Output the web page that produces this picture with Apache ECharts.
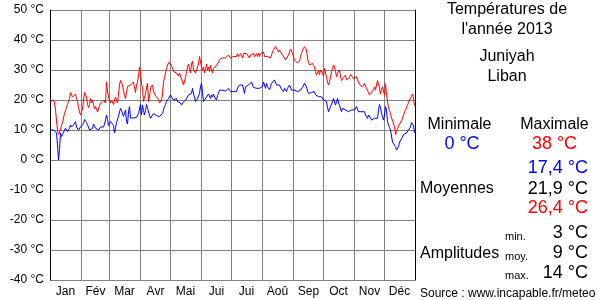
<!DOCTYPE html>
<html><head><meta charset="utf-8">
<script src="https://cdn.jsdelivr.net/npm/echarts@6/dist/echarts.min.js"></script>
<style>html,body{margin:0;padding:0;background:#fff}#c{width:600px;height:300px}</style>
</head><body><div id="c"></div>
<script>
const monthNames = ['Jan','Fév','Mar','Avr','Mai','Jui','Jui','Aoû','Sep','Oct','Nov','Déc'];
const monthDays = [31,28,31,30,31,30,31,31,30,31,30,31];
const yTicks = {min:-40, max:50, step:10};
const tMax = [
19.5,19.5,19,20,19,17,13,10,8.5,8.5,
10,11.5,12.5,14,15.5,16.5,17.5,18.5,19.5,20.5,
22.5,22.5,21,20.5,21,22,20.5,19.5,17.5,16,
15,15.5,17,20,22.5,22,21,18.5,17.5,18.5,
20.5,19,20,18.5,17,17.8,17,16,17,18,
19,19.5,19.5,20,20,19,26,23,21,20,
19,20,20.5,18.5,19.5,21,20,19,22,25,
26.5,26,25,23,21.5,20.5,22.5,24.5,24.5,25,
25,25,25,26,24,22.5,25,26,28,31,
29.5,25.5,24,19.5,21,22,24,25.5,19.5,21,
24,24.5,25,23,22,21.5,21,20.5,20.2,19,
18.5,20,22,26,27.5,29,30.5,31,32.5,33,
32.5,31.5,30.5,29.5,29.5,29.5,29,28.5,28,29,
28.5,27,26,25,25.5,27.5,29.5,31,32,30.5,
29,32,33,30,30,29,29.5,31,32,34.5,
35,31,30,31,29,30,32,30,31,29.5,
31.5,30,29,30.5,31,30.5,31.5,32,32.5,33.5,
34,34,34,34,34,34,34.2,34.5,35,34.5,
34,34.5,34,34.5,35,34.5,34.5,35.5,34.5,35,
35.5,35.5,34,35.5,36,35.5,35.5,36,35,34,
35,35.5,34.5,35.5,34.5,35,35.5,34.5,35.5,34.5,
35.5,35.5,35,36,34.5,35,35,34.5,35,34.5,
34,35,36,36.7,37.2,37.8,37.2,36.7,36,36.7,
36,35.5,35,34.5,34,33.3,34,34.5,35,36,
37,36.5,35.5,35,33.3,33.3,32.8,32.3,32.2,33,
34.5,35.5,36.7,37.2,37.8,38,36.7,34,32.5,31.7,
31.7,31.8,32.2,31.7,31,29.5,28.3,29,30,28.5,
30,30,29,28,30.5,29,27.8,26,25,25.5,
27.5,29.5,30.5,31.7,31,29.5,27.8,29,29,30,
28,26.5,26,27.5,27.8,28.3,26.7,26.2,27,27.5,
28.5,29,28.5,27.2,27.8,27.2,27.8,26.7,26.2,25.2,
25.5,24.8,24.4,24.4,25.5,25,23.9,23.9,22.5,21.7,
22,22.5,23,23.5,24.4,23.3,25,26.5,26.2,24,
22,23.5,24.4,23,21.7,25.5,21.7,19.5,17.5,16.5,
15.5,14,13.3,12,11.2,8.5,9.5,10.5,11,12,
12.5,13,14,15,16,16.7,17.2,18.2,19.2,20,
20.5,21.2,22,20.5,18
];
const tMin = [
10,10.5,10.5,10,10,10,9,5,0,3.5,
9,7.8,8.5,8.5,9,10.6,10,9.5,10,10.5,
11.7,11,11,11.7,12,12.8,11,10.5,10,10.5,
11,10.5,11,12.2,13.5,13.5,12.5,11.7,11,10,
9.4,9.4,10.5,12,11.5,10.6,10.6,10.5,10,10.6,
11,10.6,10.5,11,12,13.3,15,13.5,11.5,11.5,
12.8,12.8,12.8,11.5,9,10.5,12.5,13,14.5,16,
17.2,16.5,16,14.5,15.5,16.7,13,12,16,17.8,
14,14,14,14,14,14,14.2,14.5,15.5,17,
18.5,15,18.3,16.5,15,16.5,18.5,17.5,16,15.5,
13.9,13.3,14.2,15.5,16,15.5,14.8,14.5,15,14.5,
13.9,14.5,15.5,16.7,17.8,18.5,19.5,20,20.5,21,
21.7,21,20.5,20,19.5,20,20.5,19.5,19,20,
19,18.3,19,18.5,19,20,20.5,21,21.7,21.7,
21.1,22.2,23.9,22,21,19.5,20,20.5,20,22.2,
24.4,25.6,22.5,19.5,19,20,21,21.5,22,22.2,
20.5,21.7,21,22,21,20.5,20,21.5,22.2,23.3,
23.9,22.8,23.3,23.6,23.3,23,23.3,23.6,23.9,23.3,
22.8,22.2,23.3,22.8,23.3,23.3,22.8,24,23.5,25,
25.6,24.5,25,25,22.2,24.4,23.9,25,25,24.4,
25.5,26,25,24.2,23.9,23.9,23.9,23.9,23.9,23.9,
23.9,23.9,24.5,26,25,23.9,25.5,24.4,25,23.5,
24.4,25.5,25.6,26.1,26.7,26.1,25,25.5,24.5,25,
24.4,23.6,23.3,22.8,23.9,23.3,22.8,23.9,24.4,25,
24.4,23.3,23.3,23.9,23.3,23.3,22.8,22.8,22.2,22.8,
23.3,23.6,24.2,24.7,25.6,26.1,24.4,23,22.2,22.8,
22.8,22.5,22.2,22.8,22.8,21.7,21.7,21.1,21.1,20.8,
21.1,21.1,20.5,20,20.5,20.5,19.5,17.5,16.1,17,
17.8,18.3,19.4,20.5,20.5,18.3,19.4,20.5,19,18.3,
17,16.1,17.2,17.8,17.2,16.7,16.1,16.7,16.1,16.7,
16.7,16.7,16.7,16.7,16.7,16.7,17.8,17.2,16.1,16.1,
16.7,16.1,15.6,16.1,16.1,15,15.6,13.9,15,15.6,
14,13.3,13.9,13.3,13.9,13.9,14.4,13.9,16.7,18.5,
17.5,15.6,14.4,13.3,15,17.8,16.7,12.8,11.7,10.8,
10,8,6,5.8,6,4.4,3.3,3.3,4.4,6,
6.5,7,7.5,8.5,8,9,9,9.5,10,10.5,
11,12.5,12.8,11.5,9
];
const titleLines = ['Températures de', "l'année 2013", 'Juniyah', 'Liban'];
const extremes = {min:'0 °C', max:'38 °C'};
const means = ['17,4 °C','21,9 °C','26,4 °C'];
const amplitudes = [['min.','3 °C'],['moy.','9 °C'],['max.','14 °C']];
const sourceText = 'Source : www.incapable.fr/meteo';

const days = tMax.map((_, i) => String(i + 1));
const boundaries = new Set();
const mids = {};
let acc = 0;
monthDays.forEach((d, i) => { boundaries.add(acc); mids[acc + Math.floor(d / 2)] = monthNames[i]; acc += d; });

const FONT = '"Liberation Sans", Arial, sans-serif';
const chart = echarts.init(document.getElementById('c'), null, {renderer:'canvas'});
function txt(x, y, s, size, color, align) {
  return {type:'text', x:x, y:y, style:{text:s, fontSize:size, fontFamily:FONT, fill:color||'#000', textAlign:align||'center', textVerticalAlign:'middle'}};
}
const g = [
  txt(507, 10, titleLines[0], 16), txt(507, 30, titleLines[1], 16),
  txt(507, 57, titleLines[2], 16), txt(507, 77, titleLines[3], 16),
  txt(459.5, 125, 'Minimale', 16), txt(554.5, 125, 'Maximale', 16),
  txt(462, 144, extremes.min, 18, '#0000ff'), txt(554.5, 144, extremes.max, 18, '#ff0000'),
  txt(588, 168, means[0], 18, '#0000ff', 'right'),
  txt(588, 189, means[1], 18, '#000', 'right'),
  txt(588, 208, means[2], 18, '#ff0000', 'right'),
  txt(420, 189, 'Moyennes', 16, '#000', 'left'),
  txt(420, 254, 'Amplitudes', 16, '#000', 'left'),
  txt(420, 294, sourceText, 12, '#000', 'left')
];
amplitudes.forEach((a, i) => {
  g.push(txt(505, 237 + i * 19.5, a[0], 11, '#000', 'left'));
  g.push(txt(588, 233 + i * 20, a[1], 18, '#000', 'right'));
});

chart.setOption({
  animation:false,
  backgroundColor:'#fff',
  textStyle:{fontFamily:FONT},
  grid:{left:50, right:185, top:10, bottom:20, containLabel:false},
  xAxis:{
    type:'category', data:days, boundaryGap:true,
    axisLine:{show:false}, axisTick:{show:false},
    axisLabel:{interval:(i) => mids[i] !== undefined, formatter:(v, i) => mids[i] || '', color:'#000', fontSize:12, margin:6, fontFamily:FONT},
    splitLine:{show:true, interval:(i) => boundaries.has(i), lineStyle:{color:'#808080', width:1}}
  },
  yAxis:[{
    type:'value', min:yTicks.min, max:yTicks.max, interval:yTicks.step,
    axisLine:{show:true, lineStyle:{color:'#000', width:1}}, axisTick:{show:false},
    axisLabel:{formatter:'{value} °C', color:'#000', fontSize:12, margin:6, fontFamily:FONT},
    splitLine:{show:true, lineStyle:{color:'#808080', width:1}}
  },{
    type:'value', position:'right', min:yTicks.min, max:yTicks.max, interval:yTicks.step,
    axisLine:{show:true, lineStyle:{color:'#000', width:1}}, axisTick:{show:false},
    axisLabel:{show:false}, splitLine:{show:false}
  }],
  series:[
    {type:'line', data:tMax, showSymbol:false, symbol:'none', lineStyle:{color:'#ff0000', width:1}, z:3},
    {type:'line', data:tMin, showSymbol:false, symbol:'none', lineStyle:{color:'#0000ff', width:1}, z:3}
  ],
  graphic:g
});
</script></body></html>
